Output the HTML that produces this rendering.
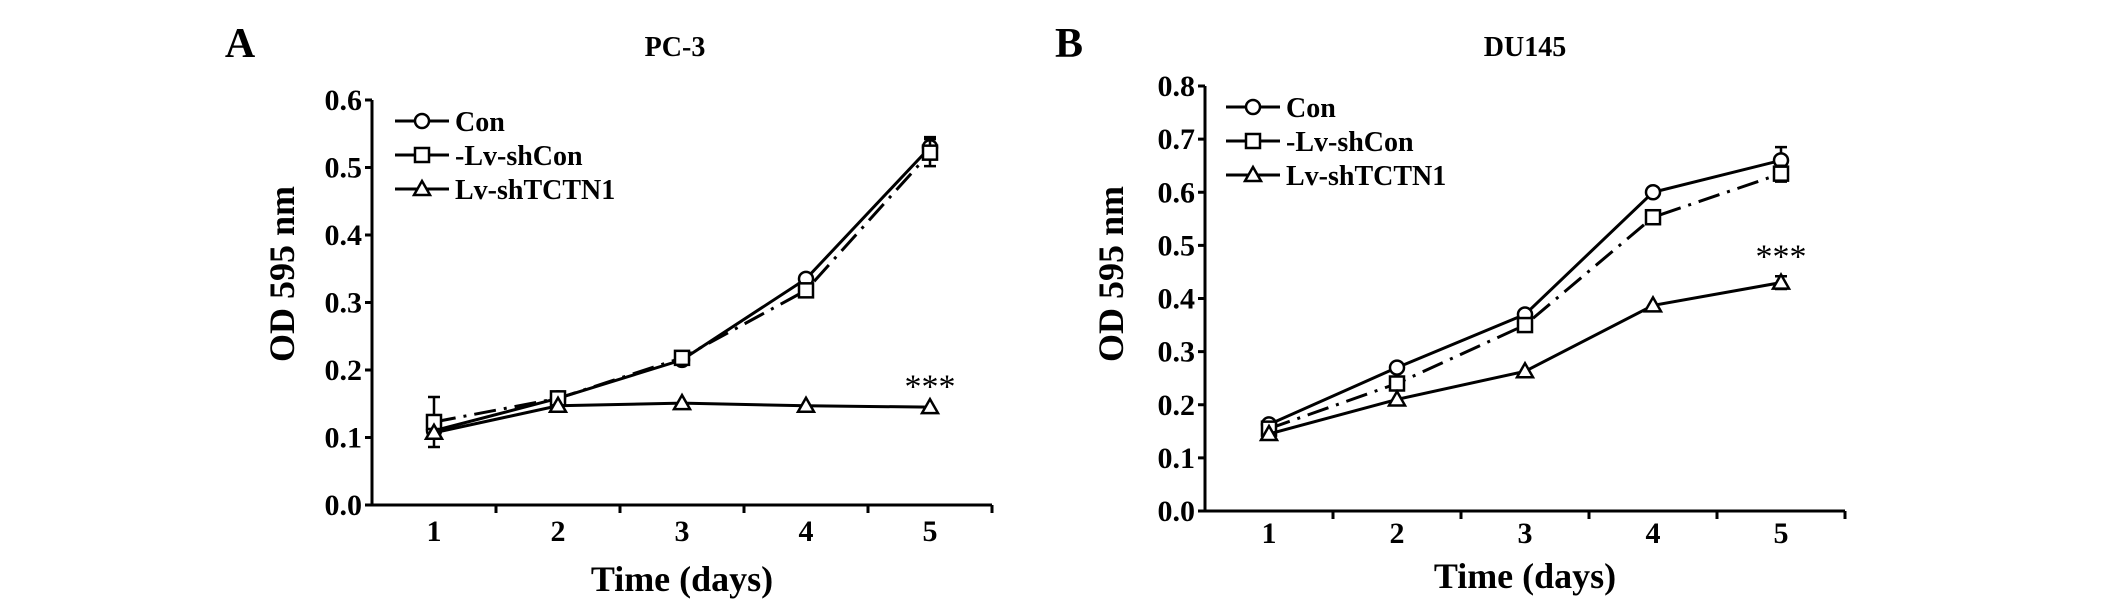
<!DOCTYPE html>
<html><head><meta charset="utf-8"><style>
html,body{margin:0;padding:0;background:#fff}
svg{display:block}
text{font-family:"Liberation Serif",serif;font-weight:bold;fill:#000}
</style></head><body>
<svg id="fig" width="2124" height="607" viewBox="0 0 2124 607"></svg>
<script>
const days=[1,2,3,4,5];
const pcCon=[0.11,0.158,0.215,0.335,0.53];
const pcShCon=[0.123,0.158,0.218,0.318,0.522];
const pcTCTN1=[0.107,0.147,0.151,0.147,0.145];
const pcShConErr=[0.037,0,0,0.01,0.02];
const pcConErr=[0,0,0,0,0.015];
const duCon=[0.163,0.27,0.37,0.6,0.66];
const duShCon=[0.155,0.24,0.35,0.553,0.635];
const duTCTN1=[0.145,0.21,0.263,0.387,0.43];
const duConErr=[0,0,0,0,0.025];
const duShConErr=[0,0,0,0,0.015];
const duTCTN1Err=[0,0,0,0,0.012];
const pcTicks=[0.0,0.1,0.2,0.3,0.4,0.5,0.6];
const duTicks=[0.0,0.1,0.2,0.3,0.4,0.5,0.6,0.7,0.8];
const legendLabels=['Con','-Lv-shCon','Lv-shTCTN1'];

const NS='http://www.w3.org/2000/svg';
const svg=document.getElementById('fig');
function mk(tag,attrs,parent){const e=document.createElementNS(NS,tag);for(const k in attrs)e.setAttribute(k,attrs[k]);(parent||svg).appendChild(e);return e;}

function panel(o){
  const g=mk('g',{});
  
  
  const yMax=o.ticks[o.ticks.length-1];
  const ys=v=>o.y0-(v/yMax)*(o.y0-o.yTop);
  const xs=d=>o.x0+o.band*(d-0.5);
  const xEnd=o.x0+o.band*days.length;
  const ya=mk('line',{x1:o.x0,y1:o.yTop,x2:o.x0,y2:o.y0,stroke:'#000','stroke-width':3},g);
  
  const xa=mk('line',{x1:o.x0,y1:o.y0,x2:xEnd,y2:o.y0,stroke:'#000','stroke-width':3},g);
  
  o.ticks.forEach(t=>{
    mk('line',{x1:o.x0-7,y1:ys(t),x2:o.x0,y2:ys(t),stroke:'#000','stroke-width':3},g);
    const tl=mk('text',{x:o.x0-10,y:ys(t)+10,'text-anchor':'end','font-size':30},g);
    tl.textContent=t.toFixed(1);
    
  });
  for(let i=1;i<=days.length;i++){
    mk('line',{x1:o.x0+o.band*i,y1:o.y0,x2:o.x0+o.band*i,y2:o.y0+8,stroke:'#000','stroke-width':3},g);
  }
  days.forEach(d=>{
    const tl=mk('text',{x:xs(d),y:o.y0+o.lblOff,'text-anchor':'middle','font-size':30},g);
    tl.textContent=d;
    
  });
  const xt=mk('text',{x:(o.x0+xEnd)/2,y:o.y0+o.titleOff,'text-anchor':'middle','font-size':36},g);
  xt.textContent='Time (days)';
  
  const yt=mk('text',{x:0,y:0,'text-anchor':'middle','font-size':36,transform:`translate(${o.ytx},${o.yty}) rotate(-90)`},g);
  yt.textContent='OD 595 nm';
  
  const tt=mk('text',{x:o.titleX,y:56,'text-anchor':'middle','font-size':28},g);
  tt.textContent=o.title;
  
  const pl=mk('text',{x:o.letterX,y:57,'text-anchor':'middle','font-size':42},g);
  pl.textContent=o.letter;
  

  function marker(type,cx,cy,parent){
    if(type==='circle')return mk('circle',{cx:cx,cy:cy,r:7,fill:'#fff',stroke:'#000','stroke-width':2.5},parent);
    if(type==='square')return mk('rect',{x:cx-7,y:cy-7,width:14,height:14,fill:'#fff',stroke:'#000','stroke-width':2.5},parent);
    return mk('polygon',{points:`${cx},${cy-8} ${cx-8},${cy+6} ${cx+8},${cy+6}`,fill:'#fff',stroke:'#000','stroke-width':2.5},parent);
  }
  o.series.forEach(s=>{
    const sg=mk('g',{},g);
    
    
    s.err.forEach((e,i)=>{
      if(e>0){
        const x=xs(days[i]),yl=ys(s.vals[i]-e),yh=ys(s.vals[i]+e);
        const eb=mk('path',{d:`M${x},${yl}V${yh}M${x-6},${yh}H${x+6}M${x-6},${yl}H${x+6}`,stroke:'#000','stroke-width':2.5,fill:'none'},sg);
        
        
      }
    });
    const pts=s.vals.map((v,i)=>xs(days[i])+','+ys(v)).join(' ');
    const ln=mk('polyline',{points:pts,fill:'none',stroke:'#000','stroke-width':3},sg);
    if(s.dash)ln.setAttribute('stroke-dasharray','22,8,3,8');
    
    
    s.vals.forEach((v,i)=>{
      const m=marker(s.marker,xs(days[i]),ys(v),sg);
      
      
    });
  });
  const lg=mk('g',{},g);
  
  
  o.series.forEach((s,i)=>{
    const y=o.legY+i*34;
    const e=mk('g',{},lg);
    
    
    mk('line',{x1:o.legX,y1:y,x2:o.legX+54,y2:y,stroke:'#000','stroke-width':3},e);
    marker(s.marker,o.legX+27,y,e);
    const t=mk('text',{x:o.legX+60,y:y+10,'font-size':28},e);
    t.textContent=legendLabels[i];
  });
  const st=mk('text',{x:xs(5),y:ys(o.starV)+14,'text-anchor':'middle','font-size':34},g);
  st.style.fontWeight='normal';
  st.textContent='***';
  
  
}

panel({name:'panel-a-pc3',x0:372,y0:505,yTop:100,band:124,ticks:pcTicks,title:'PC-3',titleX:675,letter:'A',letterX:240,ytx:294,yty:274,
  lblOff:36,titleOff:86,legX:395,legY:121,starV:0.18,
  series:[{key:'con',vals:pcCon,err:pcConErr,marker:'circle'},{key:'lv-shcon',vals:pcShCon,err:pcShConErr,marker:'square',dash:true},{key:'lv-shtctn1',vals:pcTCTN1,err:[0,0,0,0,0],marker:'triangle'}]});
panel({name:'panel-b-du145',x0:1205,y0:511,yTop:86,band:128,ticks:duTicks,title:'DU145',titleX:1525,letter:'B',letterX:1069,ytx:1123,yty:274,
  lblOff:32,titleOff:77,legX:1226,legY:107,starV:0.485,
  series:[{key:'con',vals:duCon,err:duConErr,marker:'circle'},{key:'lv-shcon',vals:duShCon,err:duShConErr,marker:'square',dash:true},{key:'lv-shtctn1',vals:duTCTN1,err:duTCTN1Err,marker:'triangle'}]});
</script>
</body></html>
